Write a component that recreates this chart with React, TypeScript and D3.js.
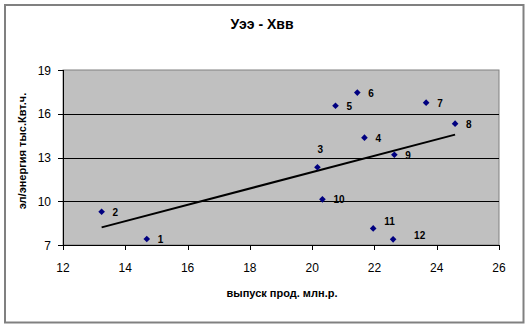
import React from "react";
import * as d3 from "d3";

const xValues = [14.69, 13.24, 20.17, 21.68, 20.75, 21.45, 23.66, 24.59, 22.64, 20.33, 21.96, 22.6];
const yValues = [7.41, 9.28, 12.33, 14.36, 16.55, 17.45, 16.76, 15.32, 13.19, 10.13, 8.14, 7.39];
const pointLabels = ["1", "2", "3", "4", "5", "6", "7", "8", "9", "10", "11", "12"];
const xTicks = [12, 14, 16, 18, 20, 22, 24, 26];
const yTicks = [7, 10, 13, 16, 19];
const title = "Уээ - Хвв";
const xTitle = "выпуск прод. млн.р.";
const yTitle = "эл/энергия тыс.Квт.ч.";

// label offsets (style)
const labelOffsets: [number, number][] = [
  [11, 4], [11, 4], [0, -14], [11, 4], [11, 4], [11, 4],
  [11, 4], [11, 4], [11, 4], [11, 4], [11, -3], [21, 0],
];

export default function App() {
  const left = 63, right = 499, top = 70, bottom = 245;
  const x = d3.scaleLinear().domain([12, 26]).range([left, right]);
  const y = d3.scaleLinear().domain([7, 19]).range([bottom, top]);

  const mx = d3.mean(xValues)!;
  const my = d3.mean(yValues)!;
  let sxy = 0, sxx = 0;
  xValues.forEach((v, i) => {
    sxy += (v - mx) * (yValues[i] - my);
    sxx += (v - mx) * (v - mx);
  });
  const slope = sxy / sxx;
  const icpt = my - slope * mx;
  const x0 = d3.min(xValues)!, x1 = d3.max(xValues)!;
  const line = d3.line<number>().x((d) => x(d)).y((d) => y(icpt + slope * d));

  const font = "Arial, 'Liberation Sans', sans-serif";
  const diamond = d3.symbol().type(d3.symbolDiamond2).size(28)();

  return (
    <svg width={531} height={328} style={{ position: "absolute", left: 0, top: 0 }} fontFamily={font}>
      <rect x={0} y={0} width={531} height={328} fill="#fff" />
      <rect x={5} y={5} width={518.5} height={317.5} fill="#fff" stroke="#808080" strokeWidth={2} />
      <text x={262} y={29} textAnchor="middle" fontSize={14} fontWeight="bold">{title}</text>
      <rect x={left} y={top} width={right - left} height={bottom - top} fill="#c0c0c0" stroke="#808080" strokeWidth={1} />
      {yTicks.slice(1, -1).map((t) => (
        <line key={t} x1={left} x2={right} y1={Math.round(y(t)) + 0.5} y2={Math.round(y(t)) + 0.5} stroke="#000" />
      ))}
      <line x1={left + 0.5} x2={left + 0.5} y1={top} y2={bottom} stroke="#000" />
      <line x1={left} x2={right} y1={bottom + 0.5} y2={bottom + 0.5} stroke="#000" />
      {yTicks.map((t) => (
        <g key={t}>
          <line x1={left - 5} x2={left} y1={Math.round(y(t)) + 0.5} y2={Math.round(y(t)) + 0.5} stroke="#000" />
          <text x={left - 12} y={y(t) + 4.5} textAnchor="end" fontSize={12}>{t}</text>
        </g>
      ))}
      {xTicks.map((t) => (
        <g key={t}>
          <line x1={Math.round(x(t)) + 0.5} x2={Math.round(x(t)) + 0.5} y1={bottom} y2={bottom + 5} stroke="#000" />
          <text x={x(t)} y={272} textAnchor="middle" fontSize={12}>{t}</text>
        </g>
      ))}
      <path d={line([x0, x1]) || ""} stroke="#000" strokeWidth={2} fill="none" />
      {xValues.map((v, i) => (
        <g key={i}>
          <path d={diamond || ""} transform={`translate(${x(v)},${y(yValues[i])})`} fill="#000080" />
          <text x={x(v) + labelOffsets[i][0]} y={y(yValues[i]) + labelOffsets[i][1]} fontSize={10} fontWeight="bold">
            {pointLabels[i]}
          </text>
        </g>
      ))}
      <text x={282} y={297} textAnchor="middle" fontSize={11} fontWeight="bold">{xTitle}</text>
      <text transform={`translate(26,151) rotate(-90)`} textAnchor="middle" fontSize={11} fontWeight="bold">{yTitle}</text>
    </svg>
  );
}
